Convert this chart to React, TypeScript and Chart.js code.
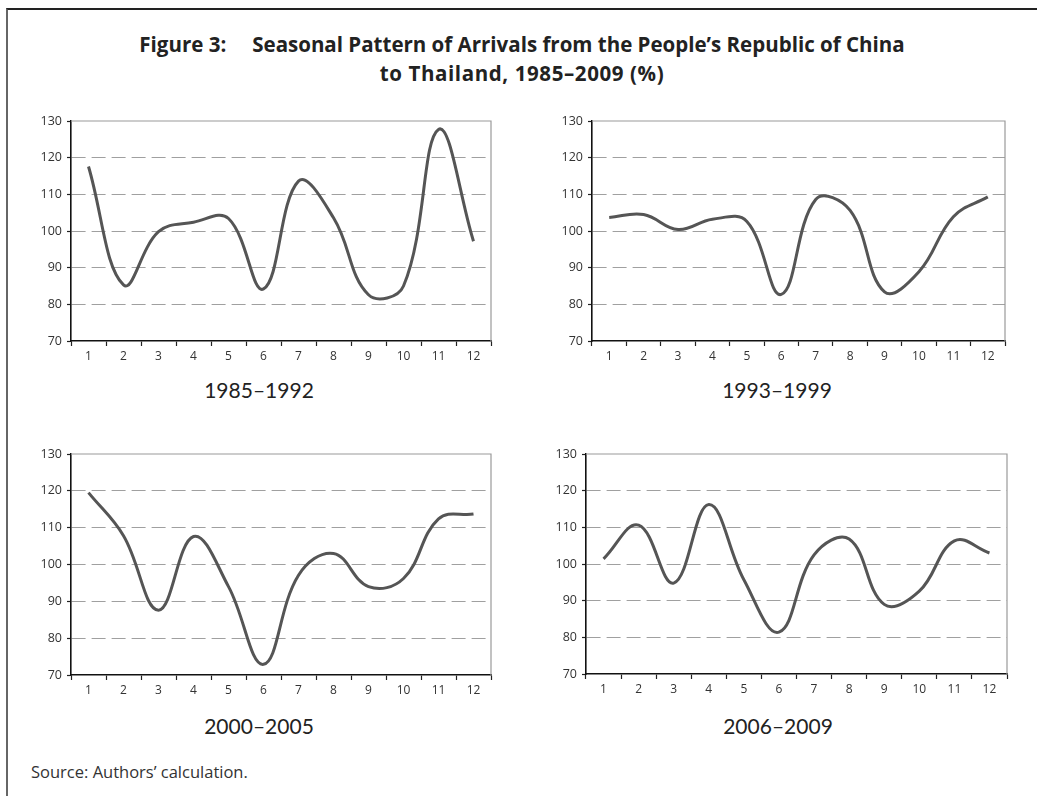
import React, { useEffect, useRef } from "react";
import { Chart, registerables } from "chart.js";

Chart.register(...registerables);

// Month numbers along each x-axis
const months: string[] = ["1", "2", "3", "4", "5", "6", "7", "8", "9", "10", "11", "12"];

// Y-axis range and step shared by all four panels
const yMin = 70;
const yMax = 130;
const yStep = 10;

// Seasonal index (%) by month for each period
const period1985to1992: number[] = [117.6, 85.3, 99.8, 102.4, 103.4, 84.2, 113.6, 103.6, 82.6, 85.0, 127.7, 97.2];
const period1993to1999: number[] = [103.7, 104.5, 100.4, 103.2, 102.6, 82.7, 108.6, 105.6, 83.4, 88.9, 103.9, 109.3];
const period2000to2005: number[] = [119.5, 107.8, 87.6, 107.6, 94.0, 72.9, 97.1, 103.0, 94.0, 96.2, 112.4, 113.7];
const period2006to2009: number[] = [101.4, 110.6, 94.8, 116.2, 95.7, 81.4, 102.5, 106.8, 89.0, 92.6, 106.3, 103.0];

const periodLabels: string[] = ["1985–1992", "1993–1999", "2000–2005", "2006–2009"];

const FONT = "Lato, 'Open Sans', 'DejaVu Sans', sans-serif";
const WIDE_FONT = "'Open Sans', Lato, 'DejaVu Sans', sans-serif";

type Area = { l: number; t: number; r: number; b: number };

type PanelProps = {
  values: number[];
  label: string;
  area: Area;
  labelX: number;
  labelY: number;
};

const Y_AXIS_W = 55;
const X_AXIS_H = 30;
const PAD_TOP = 14;
const PAD_RIGHT = 12;

// Draws the light grey top and right edges of the plot box
const plotFrame = {
  id: "plotFrame",
  afterDraw(chart: any) {
    const { ctx, chartArea } = chart;
    ctx.save();
    ctx.strokeStyle = "#9a9a9a";
    ctx.lineWidth = 1.2;
    ctx.beginPath();
    ctx.moveTo(chartArea.left, chartArea.top);
    ctx.lineTo(chartArea.right, chartArea.top);
    ctx.lineTo(chartArea.right, chartArea.bottom);
    ctx.stroke();
    ctx.restore();
  },
};

function Panel({ values, label, area, labelX, labelY }: PanelProps) {
  const ref = useRef<HTMLCanvasElement | null>(null);
  const width = area.r - area.l + Y_AXIS_W + PAD_RIGHT;
  const height = area.b - area.t + PAD_TOP + X_AXIS_H;

  useEffect(() => {
    if (!ref.current) return;
    const chart = new Chart(ref.current, {
      type: "line",
      data: {
        labels: months,
        datasets: [
          {
            data: values,
            borderColor: "#555555",
            borderWidth: 3,
            pointRadius: 0,
            tension: 0.4,
            fill: false,
          },
        ],
      },
      options: {
        responsive: false,
        animation: false,
        layout: { padding: { top: PAD_TOP, right: PAD_RIGHT, left: 0, bottom: 0 } },
        plugins: {
          legend: { display: false },
          tooltip: { enabled: false },
          title: { display: false },
        },
        scales: {
          x: {
            type: "category",
            offset: true,
            afterFit(scale: any) {
              scale.height = X_AXIS_H;
            },
            grid: {
              offset: true,
              drawOnChartArea: false,
              drawTicks: true,
              tickLength: 5,
              tickColor: "#222222",
              tickWidth: 1.2,
            },
            border: { display: true, color: "#111111", width: 1.6 },
            ticks: {
              color: "#333333",
              font: { family: WIDE_FONT, size: 12 },
              padding: 3,
              maxRotation: 0,
              autoSkip: false,
            },
          },
          y: {
            min: yMin,
            max: yMax,
            afterFit(scale: any) {
              scale.width = Y_AXIS_W;
            },
            grid: {
              color: (ctx: any) =>
                ctx.tick && (ctx.tick.value === yMin || ctx.tick.value === yMax)
                  ? "rgba(0,0,0,0)"
                  : "#a0a0a0",
              lineWidth: 1,
              drawTicks: true,
              tickLength: 4,
              tickColor: "#222222",
              tickWidth: 1.2,
            },
            border: { display: true, color: "#111111", width: 1.6, dash: [14, 6] },
            ticks: {
              stepSize: yStep,
              color: "#333333",
              font: { family: WIDE_FONT, size: 12.5 },
              padding: 5,
            },
          },
        },
      },
      plugins: [plotFrame],
    });
    return () => chart.destroy();
  }, [values]);

  return (
    <>
      <canvas
        ref={ref}
        width={width}
        height={height}
        style={{
          position: "absolute",
          left: area.l - Y_AXIS_W,
          top: area.t - PAD_TOP,
          width,
          height,
        }}
      />
      <div
        style={{
          position: "absolute",
          left: labelX,
          top: labelY,
          transform: "translate(-50%, -50%)",
          fontFamily: FONT,
          fontSize: 21,
          color: "#222222",
          whiteSpace: "nowrap",
        }}
      >
        {label}
      </div>
    </>
  );
}

export default function App() {
  return (
    <div
      style={{
        position: "absolute",
        left: 0,
        top: 0,
        width: 1037,
        height: 796,
        background: "#ffffff",
        overflow: "hidden",
        fontFamily: FONT,
      }}
    >
      <div
        style={{
          position: "absolute",
          left: 6,
          top: 8,
          width: 1100,
          height: 900,
          borderLeft: "2px solid #666666",
          borderTop: "2px solid #222222",
        }}
      />
      <div
        style={{
          position: "absolute",
          left: 22,
          width: 1000,
          top: 30,
          textAlign: "center",
          fontFamily: WIDE_FONT,
          fontWeight: 700,
          fontSize: 20.5,
          lineHeight: "29px",
          color: "#222222",
        }}
      >
        <div>
          Figure 3:<span style={{ marginLeft: 26 }}>Seasonal Pattern of Arrivals from the People’s Republic of China</span>
        </div>
        <div style={{ letterSpacing: "0.6px" }}>to Thailand, 1985–2009 (%)</div>
      </div>

      <Panel values={period1985to1992} label={periodLabels[0]} area={{ l: 71, t: 121, r: 491, b: 341 }} labelX={259} labelY={389} />
      <Panel values={period1993to1999} label={periodLabels[1]} area={{ l: 592, t: 121, r: 1005, b: 341 }} labelX={777} labelY={389} />
      <Panel values={period2000to2005} label={periodLabels[2]} area={{ l: 71, t: 454, r: 491, b: 675 }} labelX={259} labelY={725} />
      <Panel values={period2006to2009} label={periodLabels[3]} area={{ l: 586, t: 454, r: 1007, b: 674 }} labelX={778} labelY={725} />

      <div
        style={{
          position: "absolute",
          left: 31,
          top: 760,
          fontFamily: WIDE_FONT,
          fontSize: 16.5,
          color: "#333333",
        }}
      >
        Source: Authors’ calculation.
      </div>
    </div>
  );
}
